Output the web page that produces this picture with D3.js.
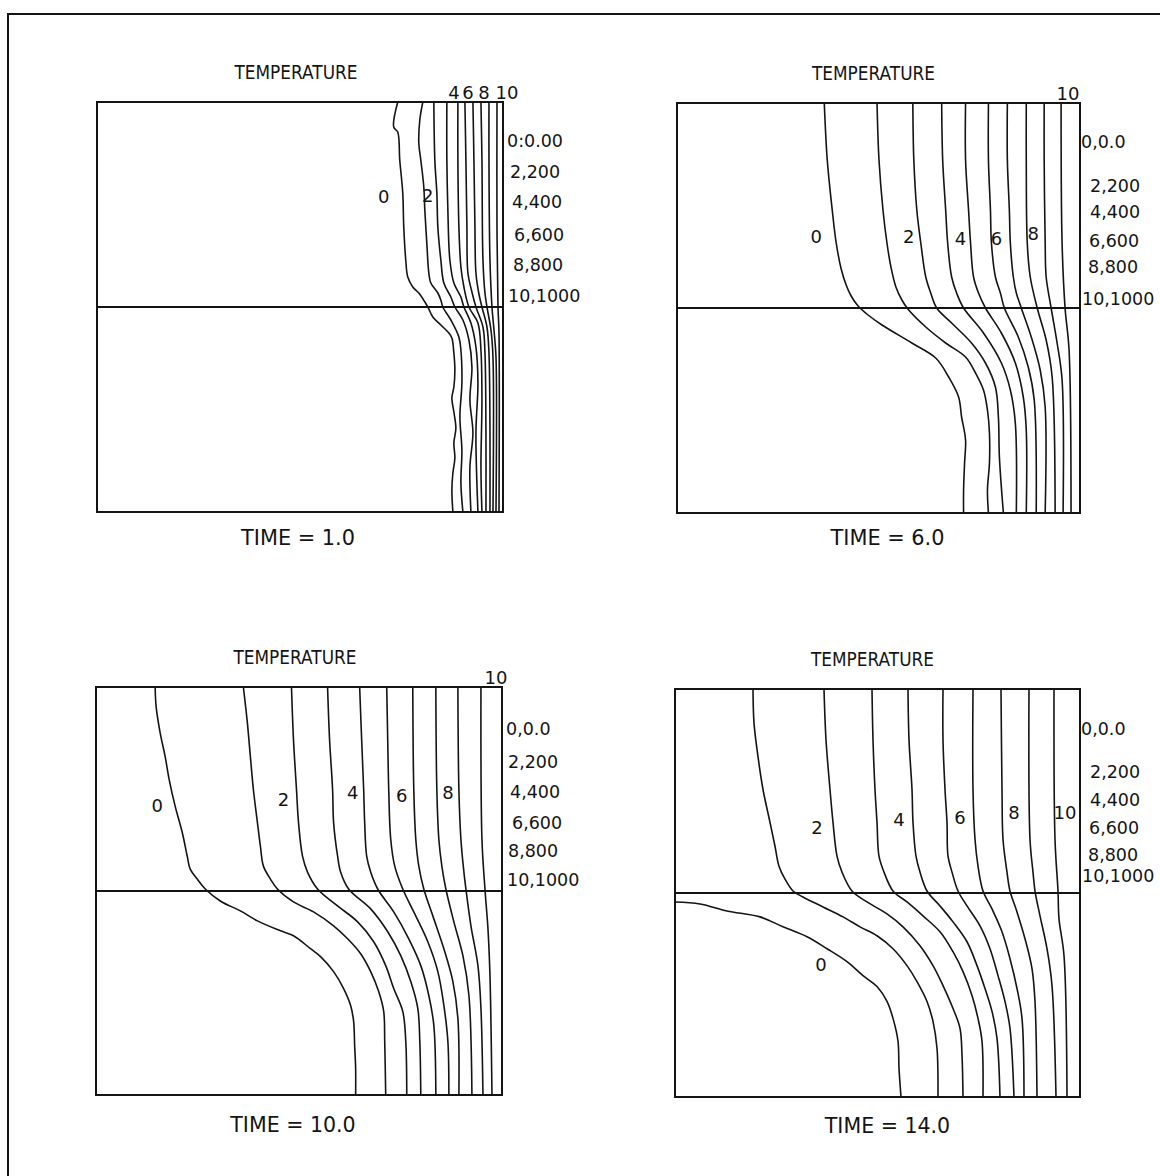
<!DOCTYPE html>
<html>
<head>
<meta charset="utf-8">
<script src="https://cdn.jsdelivr.net/npm/d3@7"></script>
<style>
  body { margin: 0; background: #fff; }
  text { font-family: "DejaVu Sans", "Liberation Sans", sans-serif; fill: #141414; }
</style>
</head>
<body>
<svg id="chart"></svg>
<script>
// --- data: contour lines read off the four snapshots ---
// each contour is [x, depth] in model units (width 0..405, depth 0..410, interface at 205)
const times = ["1.0", "6.0", "10.0", "14.0"];
const legendT1 = ["0:0.00", "2,200", "4,400", "6,600", "8,800", "10,1000"];
const legendTn = ["0,0.0", "2,200", "4,400", "6,600", "8,800", "10,1000"];
const interfaceDepth = 205;

const contoursT1 = [
  [[300,0],[296,25],[300,30],[302,58],[305,91],[306,125],[308,158],[310,175],[315,185],[321,191],[330,205],[335,215],[343,223],[351,231],[354,236],[356,251],[357,268],[356,285],[354,296],[356,310],[358,326],[356,341],[357,356],[355,371],[354,388],[355,410]],
  [[325,0],[322,18],[321,41],[323,58],[326,85],[327,108],[329,141],[331,171],[333,181],[340,191],[343,198],[345,205],[353,218],[361,235],[363,248],[364,281],[362,315],[364,348],[363,381],[365,410]],
  [[336,0],[337,58],[339,91],[340,125],[343,158],[346,181],[353,195],[357,205],[365,218],[371,238],[374,265],[372,298],[375,331],[372,365],[373,410]],
  [[349,0],[349,58],[350,108],[352,158],[356,181],[363,195],[366,205],[373,221],[378,245],[380,281],[378,331],[380,410]],
  [[360,0],[360,58],[361,125],[363,165],[366,185],[371,205],[380,221],[383,248],[384,298],[383,365],[384,410]],
  [[367,0],[368,58],[369,125],[370,171],[374,190],[378,205],[385,225],[387,251],[388,331],[388,410]],
  [[375,0],[376,58],[377,125],[378,171],[381,192],[384,205],[389,225],[391,251],[392,410]],
  [[383,0],[384,58],[385,158],[387,191],[389,205],[393,228],[395,255],[395,410]],
  [[391,0],[391,58],[392,158],[394,205],[396,228],[398,255],[398,410]],
  [[399,0],[399,125],[400,205],[401,231],[401,410]]
];

const contoursT6 = [
  [[148,0],[151,57],[156,107],[160,140],[165,166],[170,182],[175,193],[182,203],[192,212],[206,222],[236,240],[260,255],[273,274],[283,294],[286,314],[290,337],[289,360],[288,387],[288,410]],
  [[201,0],[203,57],[207,107],[211,140],[215,164],[220,184],[226,197],[232,206],[250,224],[270,240],[290,254],[300,270],[308,287],[312,307],[314,330],[314,360],[312,387],[313,410]],
  [[237,0],[238,57],[241,107],[245,140],[250,174],[255,190],[261,205],[276,220],[296,240],[310,260],[320,284],[323,314],[324,354],[328,410]],
  [[266,0],[267,57],[270,107],[272,140],[276,174],[281,190],[288,205],[308,230],[326,260],[335,287],[340,320],[341,410]],
  [[290,0],[290,57],[293,107],[295,140],[298,174],[303,190],[310,205],[326,230],[340,260],[348,294],[351,327],[351,410]],
  [[313,0],[313,57],[315,107],[316,140],[320,174],[325,190],[329,205],[343,234],[353,264],[359,297],[361,410]],
  [[332,0],[332,57],[334,107],[335,140],[338,174],[341,190],[346,205],[356,234],[365,267],[370,304],[370,410]],
  [[351,0],[351,57],[352,140],[355,174],[362,205],[371,237],[377,274],[380,410]],
  [[369,0],[369,57],[370,140],[371,174],[376,205],[382,240],[387,277],[388,410]],
  [[386,0],[387,140],[390,205],[394,247],[396,410]]
];

const contoursT10 = [
  [[59,0],[60,20],[64,46],[69,70],[73,93],[79,120],[86,146],[91,170],[94,183],[101,193],[109,203],[124,215],[144,225],[161,235],[184,245],[197,250],[214,263],[224,271],[237,286],[247,303],[254,320],[257,336],[258,360],[259,383],[259,410]],
  [[147,0],[151,36],[154,70],[157,103],[161,136],[164,160],[167,180],[174,193],[181,203],[197,216],[217,226],[237,240],[251,253],[264,268],[274,286],[282,306],[287,326],[288,356],[289,410]],
  [[195,0],[197,53],[200,103],[202,136],[206,170],[211,186],[221,203],[241,220],[261,236],[277,256],[289,280],[297,303],[306,326],[309,356],[310,410]],
  [[231,0],[233,53],[236,103],[237,136],[241,170],[244,186],[252,203],[274,223],[291,246],[304,270],[314,296],[321,323],[323,356],[324,410]],
  [[263,0],[265,53],[267,103],[268,136],[270,170],[274,186],[281,203],[297,226],[312,253],[324,280],[332,310],[337,340],[339,410]],
  [[290,0],[291,53],[292,103],[294,153],[298,180],[306,203],[317,226],[331,256],[341,286],[347,320],[351,356],[352,410]],
  [[316,0],[317,103],[319,153],[322,180],[327,203],[336,230],[347,263],[356,296],[361,333],[362,410]],
  [[339,0],[340,103],[342,153],[345,180],[349,203],[357,236],[366,270],[372,310],[375,410]],
  [[361,0],[362,103],[364,153],[367,186],[369,203],[374,240],[381,280],[384,323],[386,410]],
  [[384,0],[385,153],[388,203],[391,243],[393,290],[395,410]]
];

const contoursT14 = [
  [[0,214],[25,216],[52,223],[85,229],[108,239],[132,249],[152,261],[172,274],[188,288],[202,299],[212,314],[218,331],[223,354],[224,381],[226,410]],
  [[78,0],[79,34],[83,68],[88,101],[95,134],[100,158],[104,178],[110,191],[118,203],[128,209],[148,219],[168,229],[185,239],[202,248],[218,261],[232,278],[242,294],[252,314],[258,334],[262,361],[263,410]],
  [[149,0],[151,51],[155,101],[158,134],[162,168],[167,184],[177,203],[192,214],[212,226],[228,239],[245,258],[258,278],[268,298],[278,321],[285,341],[287,368],[288,410]],
  [[197,0],[198,51],[200,101],[202,134],[204,168],[209,184],[218,203],[232,214],[248,228],[265,244],[278,264],[288,284],[297,308],[303,331],[307,354],[308,410]],
  [[233,0],[234,51],[237,101],[238,134],[241,168],[245,184],[252,203],[265,218],[278,234],[292,254],[302,278],[310,301],[317,324],[322,351],[325,410]],
  [[268,0],[268,51],[270,101],[272,134],[273,168],[277,184],[283,203],[292,218],[305,238],[315,261],[323,288],[330,314],[335,341],[339,410]],
  [[298,0],[298,101],[300,151],[303,178],[308,203],[317,221],[327,244],[335,271],[342,301],[347,331],[349,410]],
  [[326,0],[327,101],[328,151],[332,184],[335,203],[342,224],[350,251],[357,281],[360,314],[362,410]],
  [[354,0],[355,151],[358,184],[360,203],[365,228],[372,261],[377,298],[381,410]],
  [[379,0],[380,151],[383,203],[384,231],[389,268],[392,410]]
];

// contour level labels [text, x, depth]
const labelsT1 = [["0", 286, 101], ["2", 330, 100]];
const labelsT6 = [["0", 140, 140], ["2", 233, 140], ["4", 285, 142], ["6", 321, 142], ["8", 358, 137]];
const labelsT10 = [["0", 61, 126], ["2", 187, 120], ["4", 256, 113], ["6", 305, 116], ["8", 351, 113]];
const labelsT14 = [["2", 142, 146], ["4", 224, 138], ["6", 285, 136], ["8", 339, 131], ["10", 390, 131], ["0", 146, 283]];
// labels written above the top edge [text, x]
const topLabelsT1 = [["4", 356], ["6", 370], ["8", 386], ["10", 409]];
const topLabelsT6 = [["10", 393]];
const topLabelsT10 = [["10", 399]];
const topLabelsT14 = [];

// --- layout ---
const W = 1160, H = 1176;
const frames = [
  { left: 97,  top: 102, width: 406, height: 410, titleDx: -4, timeDx: -2, timeDy: 33,
    legendDx: [4, 7, 9, 11, 10, 5], legendY: [45, 76, 106, 139, 169, 200] },
  { left: 677, top: 103, width: 403, height: 410, titleDx: -5, timeDx: 9, timeDy: 32,
    legendDx: [1, 10, 10, 9, 8, 2], legendY: [45, 89, 115, 144, 170, 202] },
  { left: 96,  top: 687, width: 406, height: 408, titleDx: -4, timeDx: -6, timeDy: 37,
    legendDx: [4, 6, 8, 10, 6, 5], legendY: [48, 81, 112, 143, 171, 200] },
  { left: 675, top: 689, width: 405, height: 408, titleDx: -5, timeDx: 10, timeDy: 36,
    legendDx: [1, 10, 10, 9, 8, 2], legendY: [46, 89, 118, 146, 173, 194] }
];
const panelContours = [contoursT1, contoursT6, contoursT10, contoursT14];
const panelLabels = [labelsT1, labelsT6, labelsT10, labelsT14];
const panelTopLabels = [topLabelsT1, topLabelsT6, topLabelsT10, topLabelsT14];
const panelLegends = [legendT1, legendTn, legendTn, legendTn];

const ink = "#141414";

const svg = d3.select("#chart").attr("width", W).attr("height", H);

// outer sheet border (top and left only are visible)
svg.append("path")
  .attr("d", d3.line()([[8, H], [8, 14], [W, 14]]))
  .attr("fill", "none")
  .attr("stroke", ink)
  .attr("stroke-width", 2);

frames.forEach((f, i) => {
  const x = d3.scaleLinear().domain([0, 405]).range([f.left, f.left + f.width]);
  const y = d3.scaleLinear().domain([0, 410]).range([f.top, f.top + f.height]);
  const g = svg.append("g").attr("class", "panel");

  g.append("clipPath").attr("id", "clip" + i)
    .append("rect")
    .attr("x", x(0)).attr("y", y(0))
    .attr("width", x(405) - x(0)).attr("height", y(410) - y(0));

  const line = d3.line()
    .x(d => x(d[0]))
    .y(d => y(d[1]))
    .curve(d3.curveCatmullRom.alpha(0.5));

  // contour lines
  g.append("g")
    .attr("clip-path", `url(#clip${i})`)
    .selectAll("path")
    .data(panelContours[i])
    .join("path")
    .attr("d", line)
    .attr("fill", "none")
    .attr("stroke", ink)
    .attr("stroke-width", 1.6)
    .attr("stroke-linejoin", "round");

  // box and layer interface
  g.append("rect")
    .attr("x", x(0)).attr("y", y(0))
    .attr("width", x(405) - x(0)).attr("height", y(410) - y(0))
    .attr("fill", "none")
    .attr("stroke", ink)
    .attr("stroke-width", 2);

  g.append("line")
    .attr("x1", x(0)).attr("x2", x(405))
    .attr("y1", y(interfaceDepth)).attr("y2", y(interfaceDepth))
    .attr("stroke", ink)
    .attr("stroke-width", 1.9);

  // title and time stamp
  g.append("text")
    .attr("x", (x(0) + x(405)) / 2 + f.titleDx)
    .attr("y", y(0) - 23)
    .attr("text-anchor", "middle")
    .attr("font-size", 20)
    .attr("textLength", 123)
    .attr("lengthAdjust", "spacingAndGlyphs")
    .text("TEMPERATURE");

  const timeText = "TIME = " + times[i];
  g.append("text")
    .attr("x", (x(0) + x(405)) / 2 + f.timeDx)
    .attr("y", y(410) + f.timeDy)
    .attr("text-anchor", "middle")
    .attr("font-size", 22)
    .attr("textLength", timeText.length * 11.4)
    .attr("lengthAdjust", "spacingAndGlyphs")
    .text(timeText);

  // level legend at the right of the box
  g.selectAll("text.legend")
    .data(panelLegends[i])
    .join("text")
    .attr("class", "legend")
    .attr("x", (d, j) => x(405) + f.legendDx[j])
    .attr("y", (d, j) => y(f.legendY[j]))
    .attr("font-size", 17.5)
    .text(d => d);

  // contour labels inside the box
  g.selectAll("text.level")
    .data(panelLabels[i])
    .join("text")
    .attr("class", "level")
    .attr("x", d => x(d[1]))
    .attr("y", d => y(d[2]))
    .attr("text-anchor", "middle")
    .attr("font-size", 18)
    .text(d => d[0]);

  // contour labels above the top edge
  g.selectAll("text.top")
    .data(panelTopLabels[i])
    .join("text")
    .attr("class", "top")
    .attr("x", d => x(d[1]))
    .attr("y", y(0) - 3)
    .attr("text-anchor", "middle")
    .attr("font-size", 18)
    .text(d => d[0]);
});
</script>
</body>
</html>
